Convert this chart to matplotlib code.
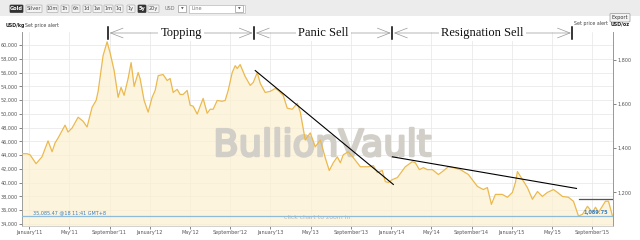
import matplotlib
matplotlib.use("Agg")
import matplotlib.pyplot as plt
from matplotlib.patches import FancyBboxPatch, Rectangle
from matplotlib.ticker import FuncFormatter
import matplotlib.transforms as mtrans
import matplotlib.patheffects as pe

# ---------------- data ----------------
months = [-0.70,-0.20,0.10,0.70,1.29,1.89,2.29,2.59,2.89,3.58,
          3.88,4.28,4.88,5.37,5.77,6.27,6.67,6.87,7.36,7.76,
          8.06,8.46,8.86,9.15,9.45,9.85,10.15,10.45,10.85,11.04,
          11.44,11.84,12.24,12.54,12.84,13.33,13.73,14.03,14.33,14.73,
          15.02,15.32,15.72,16.02,16.32,16.72,17.31,17.71,18.01,18.31,
          18.71,19.20,19.50,19.80,20.20,20.50,20.70,20.99,21.49,21.99,
          22.29,22.69,22.99,23.48,23.98,24.48,24.78,25.27,25.67,26.17,
          26.67,26.97,27.46,27.96,28.46,28.96,29.45,29.85,30.25,30.65,
          30.95,31.24,31.74,32.24,32.94,33.43,33.73,34.23,34.63,35.12,
          35.42,35.72,36.12,36.62,37.41,38.11,38.41,38.81,39.20,39.60,
          40.10,40.70,41.09,41.69,42.19,42.89,43.68,44.58,45.17,45.57,
          45.97,46.37,47.06,47.56,48.06,48.36,48.56,49.05,49.55,50.05,
          50.55,51.04,51.54,52.14,52.54,53.03,53.63,54.13,54.63,55.02,
          55.52,56.02,56.32,56.62,57.31,57.61,58.01]
price_oz = [1375,1375,1370,1330,1361,1433,1384,1424,1446,1504,
            1473,1491,1540,1522,1496,1585,1616,1657,1818,1881,
            1831,1751,1630,1675,1639,1715,1787,1679,1742,1715,
            1616,1563,1630,1661,1728,1733,1706,1715,1652,1666,
            1643,1643,1661,1594,1590,1554,1625,1558,1576,1576,
            1616,1612,1616,1661,1742,1773,1760,1778,1724,1684,
            1697,1742,1693,1652,1657,1670,1661,1639,1581,1576,
            1603,1563,1437,1469,1406,1437,1357,1299,1334,1361,
            1334,1370,1384,1357,1316,1316,1316,1321,1290,1299,
            1249,1245,1258,1267,1316,1339,1334,1303,1312,1303,
            1303,1281,1294,1316,1312,1303,1281,1227,1213,1222,
            1146,1191,1191,1178,1200,1245,1294,1258,1222,1169,
            1204,1182,1200,1213,1200,1182,1178,1160,1093,1101,
            1137,1110,1133,1110,1160,1160,1093]

xtick_months = [0, 4, 8, 12, 16, 20, 24, 28, 32, 36, 40, 44, 48, 52, 56]
xtick_labels = ["January'11", "May'11", "September'11", "January'12", "May'12",
                "September'12", "January'13", "May'13", "September'13", "January'14",
                "May'14", "September'14", "January'15", "May'15", "September'15"]
kg_ticks = [34000, 36000, 38000, 40000, 42000, 44000, 46000, 48000, 50000,
            52000, 54000, 56000, 58000, 60000]
oz_ticks = [1200, 1400, 1600, 1800]

last_kg = 35085.47
last_oz = 1089.75
last_label_kg = "35,085.47 @18 11:41 GMT+8"
last_label_oz = "1,089.75"

phase_bounds = [7.86, 22.39, 36.12, 54.03]
phase_names = ["Topping", "Panic Sell", "Resignation Sell"]

trend_lines = [  # (month0, oz0, month1, oz1)
    (22.49, 1751, 36.22, 1236),
    (36.12, 1361, 54.43, 1218),
]
flat_line = (54.63, 58.06, 1169)

OZ_PER_KG = 32.1507

# ---------------- figure ----------------
W, H = 640, 240
fig = plt.figure(figsize=(6.4, 2.4), dpi=100)
fig.patch.set_facecolor("white")

def fx(x):
    return x / W

def fy(y):
    return 1 - y / H

# header bar
fig.patches.append(Rectangle((0, fy(16)), 1, 16 / H, transform=fig.transFigure,
                             facecolor="#ececec", edgecolor="none", zorder=0))

buttons = [("Gold", 10, 23, True), ("Silver", 26, 42, False), ("10m", 47, 58, False),
           ("1h", 61, 69, False), ("6h", 72, 80, False), ("1d", 83, 91, False),
           ("1w", 93, 102, False), ("1m", 104, 113, False), ("1q", 115, 123, False),
           ("1y", 127, 135, False), ("5y", 138, 146, True), ("20y", 148, 159, False)]
for lab, x0, x1, sel in buttons:
    fig.patches.append(FancyBboxPatch((fx(x0), fy(12.5)), (x1 - x0) / W, 7.5 / H,
                                      boxstyle="round,pad=0.0,rounding_size=0.002",
                                      transform=fig.transFigure,
                                      facecolor="#333333" if sel else "#f4f4f4",
                                      edgecolor="#333333" if sel else "#b0b0b0", lw=0.5))
    fig.text(fx((x0 + x1) / 2), fy(8.8), lab, fontsize=3.6, ha="center", va="center",
             color="white" if sel else "#444444", fontweight="bold" if sel else "normal")
fig.text(fx(165), fy(8.8), "USD", fontsize=3.6, ha="left", va="center", color="#777777")
fig.patches.append(Rectangle((fx(178), fy(12)), 8 / W, 6.5 / H, transform=fig.transFigure,
                             facecolor="white", edgecolor="#999999", lw=0.5))
fig.text(fx(182), fy(8.8), "\u25bc", fontsize=2.5, ha="center", va="center", color="#555555")
fig.patches.append(Rectangle((fx(189), fy(12.5)), 56 / W, 7.5 / H, transform=fig.transFigure,
                             facecolor="white", edgecolor="#bbbbbb", lw=0.5))
fig.text(fx(192), fy(8.8), "Line", fontsize=3.6, ha="left", va="center", color="#777777")
fig.patches.append(Rectangle((fx(235), fy(12)), 8 / W, 6.5 / H, transform=fig.transFigure,
                             facecolor="white", edgecolor="#999999", lw=0.5))
fig.text(fx(239), fy(8.8), "\u25bc", fontsize=2.5, ha="center", va="center", color="#555555")

# export button
fig.patches.append(FancyBboxPatch((fx(610), fy(22)), 20 / W, 8.5 / H,
                                  boxstyle="round,pad=0.0,rounding_size=0.003",
                                  transform=fig.transFigure, facecolor="#f4f4f4",
                                  edgecolor="#999999", lw=0.5))
fig.text(fx(620), fy(17.7), "Export", fontsize=3.6, ha="center", va="center", color="#333333")

fig.text(fx(6), fy(25), "USD/kg", fontsize=3.4, ha="left", va="center", color="#222222",
         fontweight="bold")
fig.text(fx(25), fy(25), "Set price alert", fontsize=3.4, ha="left", va="center", color="#444444")
fig.text(fx(608), fy(24), "Set price alert", fontsize=3.4, ha="right", va="center",
         color="#444444")
fig.text(fx(611), fy(24), "USD/oz", fontsize=3.4, ha="left", va="center", color="#222222",
         fontweight="bold")

# ---------------- axes ----------------
ax = fig.add_axes([fx(22), fy(226), (613 - 22) / W, (226 - 32) / H])
ax2 = ax.twinx()
ax.set_xlim(-0.70, 58.06)
kg_lo, kg_hi = 33700, 61900
ax.set_ylim(kg_lo, kg_hi)
ax2.set_ylim(kg_lo / OZ_PER_KG, kg_hi / OZ_PER_KG)

ax.set_facecolor("white")
ax.set_yticks(kg_ticks)
ax.yaxis.set_major_formatter(FuncFormatter(lambda v, p: f"{v:,.0f}"))
ax.set_xticks(xtick_months)
ax.set_xticklabels(xtick_labels)
ax.grid(True, color="#e6e6e6", lw=0.5)
ax.set_axisbelow(True)
ax2.set_yticks(oz_ticks)
ax2.yaxis.set_major_formatter(FuncFormatter(lambda v, p: f"{v:,.0f}"))

for a in (ax, ax2):
    a.spines["top"].set_visible(False)
    a.spines["left"].set_color("#999999")
    a.spines["right"].set_color("#999999")
    a.spines["bottom"].set_color("#cccccc")
    a.spines["left"].set_linewidth(0.6)
    a.spines["right"].set_linewidth(0.6)
    a.spines["bottom"].set_linewidth(0.5)
    a.tick_params(labelsize=3.5, colors="#555555", length=2, width=0.5, pad=1)

# price area
bottom_oz = kg_lo / OZ_PER_KG
ax2.fill_between(months, price_oz, bottom_oz, color="#fdf1d2", alpha=0.75, lw=0, zorder=1)

# watermark (between fill and line)
wm_color = "#d2cfc8"
ax2.text(0.508, 0.415, "BullionVault", transform=ax.transAxes, fontsize=26.5,
         family="DejaVu Sans", color=wm_color,
         ha="center", va="center", zorder=2,
         path_effects=[pe.withStroke(linewidth=1.8, foreground=wm_color)])
ax2.text(0.5, 0.045, "click chart to zoom in", transform=ax.transAxes, fontsize=4.4,
         color="#b4b4b4", ha="center", va="center", zorder=2)

ax2.plot(months, price_oz, color="#ebb94d", lw=0.9, zorder=3)

# last price line
ax2.axhline(last_kg / OZ_PER_KG, color="#8fbbd9", lw=0.9, zorder=4)
ax2.text(0.4, last_kg / OZ_PER_KG + 6, last_label_kg, fontsize=3.5, color="#3a7fc0",
         ha="left", va="bottom", zorder=6)
ax2.text(57.6, last_oz + 8, last_label_oz, fontsize=3.6, color="#3a7fc0", ha="right",
         va="bottom", fontweight="bold", zorder=6)

# trend lines
for m0, p0, m1, p1 in trend_lines:
    ax2.plot([m0, m1], [p0, p1], color="black", lw=0.8, zorder=5)
ax2.plot([flat_line[0], flat_line[1]], [flat_line[2], flat_line[2]], color="#555555",
         lw=0.9, zorder=5)

# phase annotations
tr = mtrans.blended_transform_factory(ax.transData, fig.transFigure)
ya = fy(33)
for b in phase_bounds:
    ax2.plot([b, b], [fy(27), fy(39)], transform=tr, color="black", lw=1.1,
             clip_on=False, zorder=10)
for (a0, a1), name in zip(zip(phase_bounds[:-1], phase_bounds[1:]), phase_names):
    c = (a0 + a1) / 2
    t = ax2.text(c, ya, name, transform=tr, fontsize=9, family="Liberation Serif",
                 ha="center", va="center", color="#111111", zorder=11, clip_on=False)
    for end in (a0, a1):
        ax2.annotate("", xy=(end + (0.15 if end == a0 else -0.15), ya), xycoords=tr,
                     xytext=(c, ya), textcoords=tr,
                     arrowprops=dict(arrowstyle="->,head_length=0.9,head_width=0.35",
                                     color="#999999", lw=0.5, shrinkA=0, shrinkB=0,
                                     mutation_scale=10),
                     zorder=9, annotation_clip=False)
    t.set_bbox(dict(facecolor="white", edgecolor="none", pad=1.5))

fig.savefig("out.png", dpi=100, facecolor="white")
